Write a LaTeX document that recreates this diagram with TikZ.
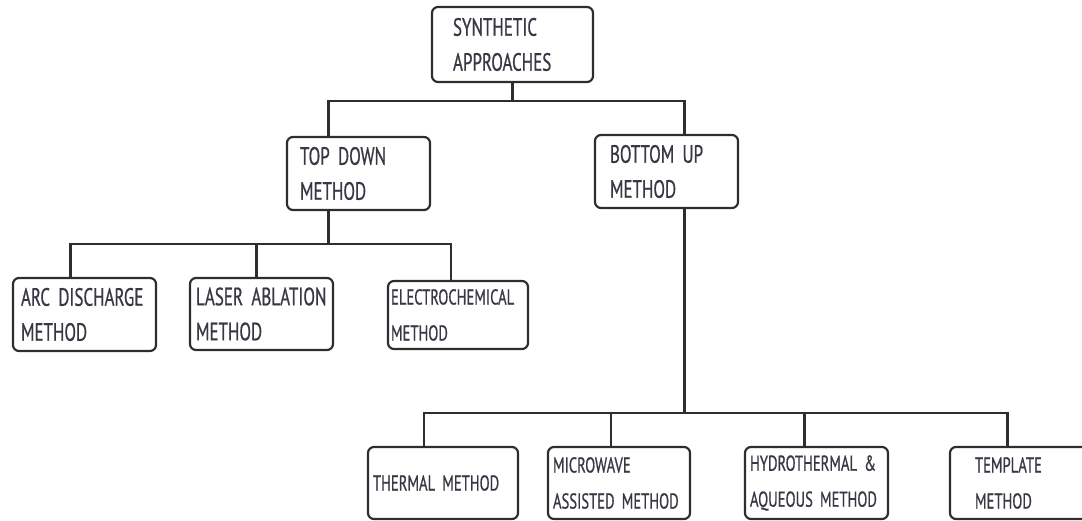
\documentclass[tikz,border=0pt]{standalone}
\usepackage{fontspec}
\usepackage{xcolor}
\usepackage{tikz}
\usetikzlibrary{positioning}
\newfontfamily\boxfont{PT Sans}[FakeStretch=0.68,FakeBold=0.7,WordSpace=0.4]
\definecolor{ChartInk}{HTML}{2E2E2E}
\definecolor{ChartText}{HTML}{383844}

\begin{document}
\begin{tikzpicture}[x=1pt,y=-1pt,
  stagebox/.style={draw=ChartInk,line width=2.2pt,rounded corners=6pt,align=left,
    inner ysep=0pt,minimum height=73pt,text=ChartText},
  bigtext/.style={font=\boxfont\fontsize{25}{35}\selectfont},
  smalltext/.style={font=\boxfont\fontsize{21.5}{36}\selectfont},
  wire/.style={draw=ChartInk,line width=2.2pt}]
\useasboundingbox (0,0) rectangle (1082,521);
\node[stagebox,bigtext,text width=119pt,inner xsep=21pt,minimum height=75pt] (root) at (512.5,44.5) {SYNTHETIC\\APPROACHES};
\node[stagebox,bigtext,text width=117pt,inner xsep=13pt] (topdown) at (358.5,173.5) {TOP DOWN\\METHOD};
\node[stagebox,bigtext,text width=113pt,inner xsep=15pt] (bottomup) at (666.5,171.5) {BOTTOM UP\\METHOD};
\node[stagebox,bigtext,text width=127pt,inner xsep=8pt] (arc) at (84.5,314.5) {ARC DISCHARGE\\METHOD};
\node[stagebox,bigtext,text width=131pt,inner xsep=6pt,minimum height=72pt] (laser) at (261.5,314) {LASER ABLATION\\METHOD};
\node[stagebox,smalltext,text width=134pt,inner xsep=3pt,minimum height=68pt] (electro) at (458,315) {ELECTROCHEMICAL\\METHOD};
\node[stagebox,smalltext,text width=140pt,inner xsep=5pt,minimum height=72pt] (thermal) at (443,483) {THERMAL METHOD\\[6pt]};
\node[stagebox,smalltext,text width=132pt,inner xsep=5pt,minimum height=72pt] (microwave) at (619,483) {MICROWAVE\\ASSISTED METHOD};
\node[stagebox,smalltext,text width=133pt,inner xsep=5pt,minimum height=72pt] (hydro) at (816.5,483) {HYDROTHERMAL \&\\AQUEOUS METHOD};
\node[stagebox,smalltext,text width=95pt,inner xsep=25pt,minimum height=72pt] (template) at (1022.5,483) {TEMPLATE\\METHOD};
% tree connectors
\draw[wire] (root.south) -- ++(0,18) coordinate (topbus);
\draw[wire] ([xshift=-30pt]topdown.north) |- (topbus) -| ([xshift=18pt]bottomup.north);
\draw[wire] ([xshift=-30pt]topdown.south) -- ++(0,33) coordinate (tdbus);
\foreach \n/\dx in {arc/-14,laser/-5,electro/-7}
  \draw[wire] ([xshift=\dx pt]\n.north) |- (tdbus);
\draw[wire] ([xshift=18pt]bottomup.south) -- ++(0,204) coordinate (bubus);
\foreach \n/\dx in {thermal/-19,microwave/-8,hydro/-12,template/-15}
  \draw[wire] ([xshift=\dx pt]\n.north) |- (bubus);
\end{tikzpicture}
\end{document}
